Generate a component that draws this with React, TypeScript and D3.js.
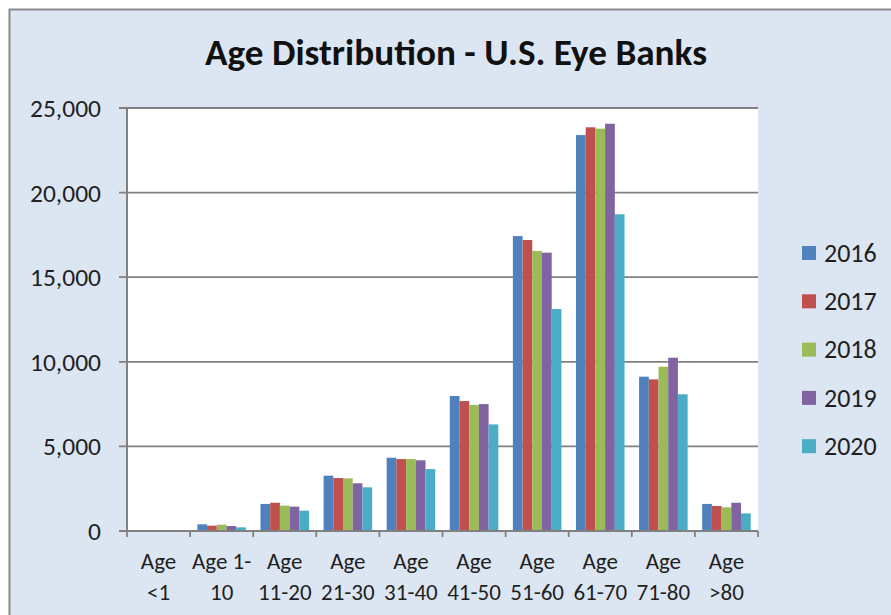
import React from "react";
import * as d3 from "d3";

// Age groups (each label wrapped onto two lines as on the axis)
const categories = ["Age <1", "Age 1-10", "Age 11-20", "Age 21-30", "Age 31-40", "Age 41-50", "Age 51-60", "Age 61-70", "Age 71-80", "Age >80"];
const categoryLines = [
  ["Age", "<1"], ["Age 1-", "10"], ["Age", "11-20"], ["Age", "21-30"], ["Age", "31-40"],
  ["Age", "41-50"], ["Age", "51-60"], ["Age", "61-70"], ["Age", "71-80"], ["Age", ">80"],
];

const years = ["2016", "2017", "2018", "2019", "2020"];
const colors = ["#4F81BD", "#C0504D", "#9BBB59", "#8064A2", "#4BACC6"];

// Donor counts per age group, one array per year
const values2016 = [15, 395, 1600, 3270, 4330, 7980, 17430, 23400, 9120, 1600];
const values2017 = [12, 315, 1670, 3130, 4250, 7680, 17200, 23860, 8960, 1480];
const values2018 = [14, 375, 1500, 3110, 4250, 7450, 16550, 23780, 9710, 1400];
const values2019 = [10, 295, 1440, 2820, 4180, 7500, 16450, 24070, 10240, 1670];
const values2020 = [8, 215, 1200, 2580, 3660, 6300, 13120, 18720, 8080, 1040];
const seriesValues = [values2016, values2017, values2018, values2019, values2020];

const yTicks = [0, 5000, 10000, 15000, 20000, 25000];

const W = 891;
const H = 615;
const plot = { left: 127, right: 758, top: 108, bottom: 531 };

export default function App() {
  const x = d3.scaleBand<string>().domain(categories).range([plot.left, plot.right]).paddingInner(0).paddingOuter(0);
  const xi = d3.scaleBand<string>().domain(years).range([0, x.bandwidth()]).paddingInner(0).paddingOuter(0.75);
  const y = d3.scaleLinear().domain([0, 25000]).range([plot.bottom, plot.top]);
  const fmt = d3.format(",");
  const textColor = "#1f1f1f";
  const axisColor = "#808080";
  const font = "Carlito, Lato, 'Open Sans', sans-serif";

  const boundaries = d3.range(categories.length + 1).map((i) => plot.left + i * x.step());

  return (
    <div style={{ position: "absolute", left: 0, top: 0 }}>
      <svg width={W} height={H} style={{ display: "block" }} fontFamily={font}>
        <rect x={0} y={0} width={W} height={H} fill="#ffffff" />
        <rect x={9.5} y={9.5} width={W + 20} height={H + 20} fill="#DCE6F2" stroke="#8a8a8a" strokeWidth={2} />

        <text x={456} y={65} textAnchor="middle" fontSize={36} fontWeight="bold" fill="#111" textLength={502} lengthAdjust="spacingAndGlyphs">
          Age Distribution - U.S. Eye Banks
        </text>

        <rect x={plot.left} y={plot.top} width={plot.right - plot.left} height={plot.bottom - plot.top} fill="#ffffff" />

        {/* gridlines, y ticks and labels */}
        {yTicks.map((t) => (
          <g key={t}>
            <line x1={plot.left - 8} x2={plot.right} y1={y(t)} y2={y(t)} stroke={axisColor} strokeWidth={1.8} />
            <text x={101} y={y(t)} dy="0.35em" textAnchor="end" fontSize={25.5} fill={textColor}>
              {fmt(t)}
            </text>
          </g>
        ))}

        {/* bars */}
        {categories.map((c, ci) => (
          <g key={c} transform={`translate(${x(c)},0)`}>
            {years.map((yr, si) => {
              const v = seriesValues[si][ci];
              return (
                <rect key={yr} x={xi(yr)} y={y(v)} width={xi.bandwidth()} height={plot.bottom - y(v)} fill={colors[si]} />
              );
            })}
          </g>
        ))}

        {/* axes */}
        <line x1={plot.left} x2={plot.left} y1={plot.top} y2={plot.bottom + 1} stroke={axisColor} strokeWidth={2} />
        <line x1={plot.left - 8} x2={plot.right} y1={plot.bottom} y2={plot.bottom} stroke={axisColor} strokeWidth={2} />
        {boundaries.map((bx, i) => (
          <line key={i} x1={bx} x2={bx} y1={plot.bottom} y2={plot.bottom + 6} stroke={axisColor} strokeWidth={1.8} />
        ))}

        {/* category labels */}
        {categories.map((c, ci) => (
          <text key={c} x={(x(c) as number) + x.bandwidth() / 2} textAnchor="middle" fontSize={23} fill={textColor}>
            <tspan x={(x(c) as number) + x.bandwidth() / 2} y={569}>{categoryLines[ci][0]}</tspan>
            <tspan x={(x(c) as number) + x.bandwidth() / 2} y={600}>{categoryLines[ci][1]}</tspan>
          </text>
        ))}

        {/* legend */}
        {years.map((yr, i) => {
          const cy = 253 + i * 48.3;
          return (
            <g key={yr}>
              <rect x={802} y={cy - 7} width={14} height={14} fill={colors[i]} />
              <text x={824} y={cy} dy="0.34em" fontSize={26} fill={textColor}>
                {yr}
              </text>
            </g>
          );
        })}
      </svg>
    </div>
  );
}
